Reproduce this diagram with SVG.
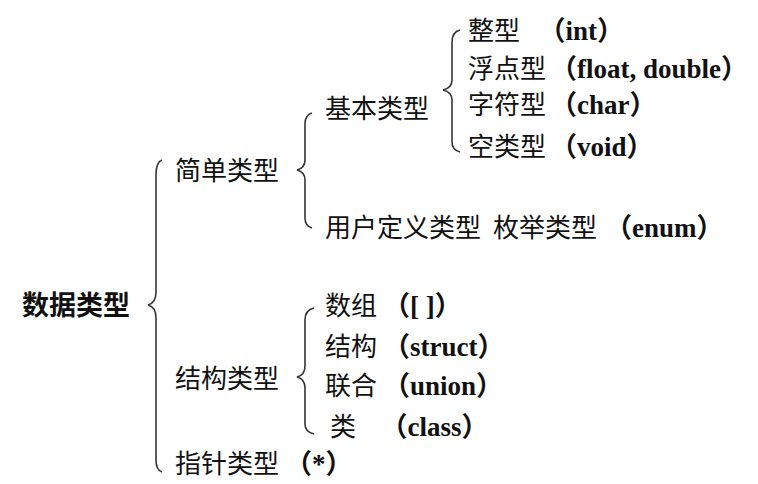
<svg xmlns="http://www.w3.org/2000/svg" width="758" height="484" viewBox="0 0 758 484">
<style>
text{font-family:"Noto Sans CJK SC",sans-serif;font-size:26px;fill:#111}
.b{font-family:"Liberation Serif","Noto Sans CJK SC",serif;font-weight:bold;font-size:27px}
.root{font-weight:bold;font-size:27px}
.br{fill:none;stroke:#333;stroke-width:1.6}
</style>
<rect width="758" height="484" fill="#fff"/>
<g id="connectors">
<path class="br" d="M162,160 Q156,162 156,175 L156,292 Q156,303 148,305 Q156,307 156,318 L156,460 Q156,470 162,472"/>
<path class="br" d="M312,113 Q305,115 305,124 L305,160 Q305,168 297,170 Q305,172 305,180 L305,218 Q305,226 312,228"/>
<path class="br" d="M460,30 Q452,32 452,42 L452,80 Q452,88 443,90 Q452,92 452,100 L452,142 Q452,150 460,152"/>
<path class="br" d="M314,308 Q305,310 305,320 L305,366 Q305,375 297,377 Q305,379 305,388 L305,424 Q305,432 314,434"/>
</g>
<g id="root"><text class="root" x="22" y="315">数据类型</text></g>
<g id="simple"><text x="175" y="180">简单类型</text></g>
<g id="basic"><text x="325" y="118">基本类型</text></g>
<g id="int"><text x="468" y="40">整型　<tspan class="b" dx="6">（int）</tspan></text></g>
<g id="float"><text x="468" y="78">浮点型<tspan class="b" dx="4">（float, double）</tspan></text></g>
<g id="char"><text x="468" y="114">字符型<tspan class="b" dx="4">（char）</tspan></text></g>
<g id="void"><text x="468" y="156">空类型<tspan class="b" dx="4">（void）</tspan></text></g>
<g id="user"><text x="325" y="237">用户定义类型<tspan dx="12">枚举类型</tspan><tspan class="b" dx="8">（enum）</tspan></text></g>
<g id="struct-type"><text x="175" y="388">结构类型</text></g>
<g id="array"><text x="325" y="315">数组<tspan class="b" dx="6">（[ ]）</tspan></text></g>
<g id="struct"><text x="325" y="356">结构<tspan class="b" dx="6">（struct）</tspan></text></g>
<g id="union"><text x="325" y="395">联合<tspan class="b" dx="6">（union）</tspan></text></g>
<g id="class"><text x="330" y="436">类　<tspan class="b" dx="12">（class）</tspan></text></g>
<g id="pointer"><text x="175" y="473">指针类型<tspan class="b" dx="6">（*）</tspan></text></g>
</svg>
